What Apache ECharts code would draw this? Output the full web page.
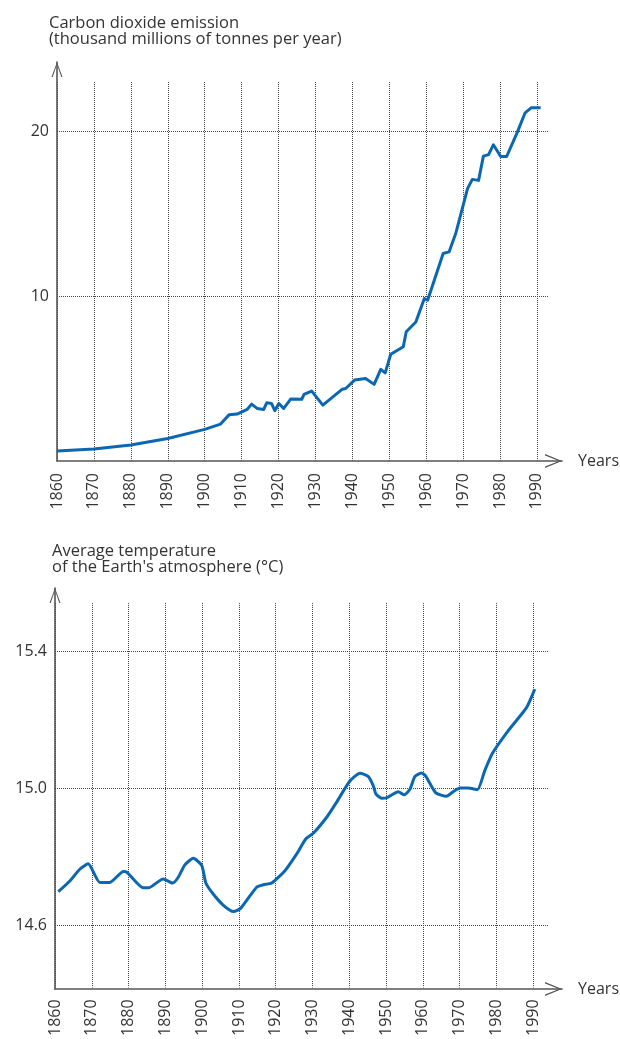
<!DOCTYPE html>
<html>
<head>
<meta charset="utf-8">
<script src="https://cdn.jsdelivr.net/npm/echarts@6/dist/echarts.min.js"></script>
<style>
  html, body { margin: 0; padding: 0; background: #fff; }
  #chart { width: 620px; height: 1039px; }
</style>
</head>
<body>
<div id="chart"></div>
<script>
// carbon dioxide emission (thousand millions of tonnes per year)
const co2Years = [1860, 1870, 1880, 1890, 1900, 1904.3, 1906.6, 1908.8, 1911.5, 1912.7,
  1914.2, 1916, 1916.8, 1918.1, 1919, 1920.1, 1921.4, 1923.3, 1926.3, 1926.9,
  1929, 1932, 1937.3, 1938.2, 1940.6, 1943.6, 1945.9, 1947.7, 1948.9, 1950.4,
  1953.8, 1954.6, 1957.2, 1959.5, 1960.4, 1964.6, 1966.2, 1968, 1971.2, 1972.5,
  1974.2, 1975.5, 1976.9, 1978.2, 1980.2, 1981.8, 1984.7, 1986.8, 1988.5, 1991];
const co2Values = [0.6, 0.73, 0.97, 1.37, 1.92, 2.24, 2.8, 2.85, 3.13, 3.45,
  3.19, 3.13, 3.53, 3.49, 3.05, 3.49, 3.19, 3.76, 3.74, 4.04,
  4.24, 3.39, 4.36, 4.4, 4.91, 5.01, 4.65, 5.56, 5.35, 6.48,
  6.93, 7.84, 8.44, 9.86, 9.76, 12.59, 12.69, 13.8, 16.53, 17.09,
  17.03, 18.5, 18.59, 19.19, 18.48, 18.48, 19.96, 21.13, 21.44, 21.44];

// average temperature of the Earth's atmosphere (°C)
const tempYears = [1860.9, 1864.1, 1866.8, 1869, 1872.2, 1874.9, 1878.6, 1879.5, 1884, 1885.4,
  1889.4, 1892, 1893.5, 1895.3, 1897.6, 1899.9, 1901, 1903, 1905.7, 1908.5,
  1910.5, 1914.8, 1916.6, 1918.9, 1922.5, 1925.7, 1928.2, 1930.2, 1934, 1936.5,
  1940.2, 1942.9, 1945.1, 1946.5, 1947.2, 1948.8, 1950.1, 1953.3, 1954.9, 1956.5,
  1957.8, 1959.6, 1960.8, 1963.5, 1966.4, 1968.2, 1970.1, 1972.3, 1974.8, 1976.8,
  1978.9, 1983.2, 1988.2, 1990.4];
const tempValues = [14.699, 14.731, 14.765, 14.78, 14.726, 14.726, 14.758, 14.756, 14.71, 14.71,
  14.736, 14.724, 14.741, 14.777, 14.796, 14.775, 14.724, 14.692, 14.66, 14.641,
  14.651, 14.712, 14.719, 14.724, 14.76, 14.809, 14.853, 14.869, 14.918, 14.959,
  15.022, 15.044, 15.035, 15.008, 14.984, 14.971, 14.972, 14.99, 14.981, 14.998,
  15.034, 15.045, 15.035, 14.987, 14.977, 14.99, 15.001, 15.001, 14.996, 15.051,
  15.102, 15.168, 15.236, 15.289];

const yearTicks = [1860, 1870, 1880, 1890, 1900, 1910, 1920, 1930, 1940, 1950, 1960, 1970, 1980, 1990];
const co2Ticks = [10, 20];
const tempTicks = [14.6, 15.0, 15.4];

const font = '"Open Sans", Lato, sans-serif';
const textColor = '#333';
const lineColor = '#0b67b2';
const gridLine = {show: true, lineStyle: {color: '#444', width: 1, type: 'dotted'}};

// open chevron arrow heads for the axis ends
const arrowUp = 'path://M5.5,0 L11,15 L9.8,15 L5.5,2.6 L1.2,15 L0,15 Z';
const arrowRight = 'path://M7,0 L14,17 L12.6,17 L7,3 L1.4,17 L0,17 Z';

let chart = echarts.init(document.getElementById('chart'), null, {renderer: 'canvas'});

let dataX = (gridIndex, max) => ({
  type: 'value', gridIndex: gridIndex, min: 1860, max: max,
  axisLine: {show: false},
  axisTick: {show: false, customValues: yearTicks},
  axisLabel: {customValues: yearTicks, rotate: 90, margin: 12, fontSize: 16, color: textColor, fontFamily: font,
    formatter: (v) => String(v)},
  splitLine: gridLine
});

let arrowX = (gridIndex) => ({
  type: 'value', gridIndex: gridIndex, min: 0, max: 1,
  name: 'Years', nameLocation: 'end', nameGap: 16,
  nameTextStyle: {fontSize: 16, color: textColor, fontFamily: font},
  axisLine: {show: true, symbol: ['none', arrowRight], symbolSize: [14, 17], symbolOffset: [0, -8.5],
    lineStyle: {color: '#555', width: 1.6}},
  axisTick: {show: false}, axisLabel: {show: false}, splitLine: {show: false}
});

let arrowY = (gridIndex) => ({
  type: 'value', gridIndex: gridIndex, min: 0, max: 1,
  axisLine: {show: true, symbol: ['none', arrowUp], symbolSize: [11, 15], symbolOffset: [0, -7.5],
    lineStyle: {color: '#555', width: 1.6}},
  axisTick: {show: false}, axisLabel: {show: false}, splitLine: {show: false}
});

chart.setOption({
  animation: false,
  title: [
    {text: 'Carbon dioxide emission\n(thousand millions of tonnes per year)', left: 44, top: 10,
      textStyle: {fontSize: 16.5, lineHeight: 16, fontWeight: 'normal', color: textColor, fontFamily: font}},
    {text: 'Average temperature\nof the Earth\'s atmosphere (°C)', left: 47, top: 538,
      textStyle: {fontSize: 16.5, lineHeight: 16, fontWeight: 'normal', color: textColor, fontFamily: font}}
  ],
  grid: [
    {left: 57, right: 72, top: 82, bottom: 578},
    {left: 57, right: 57, top: 62, bottom: 578},
    {left: 55, right: 72, top: 603, bottom: 50},
    {left: 55, right: 57, top: 588, bottom: 50}
  ],
  xAxis: [dataX(0, 1993), arrowX(1), dataX(2, 1994), arrowX(3)],
  yAxis: [
    {
      type: 'value', gridIndex: 0, min: 0, max: 23,
      axisLine: {show: false},
      axisTick: {show: false, customValues: co2Ticks},
      axisLabel: {customValues: co2Ticks, margin: 8, fontSize: 16, color: textColor, fontFamily: font},
      splitLine: gridLine
    },
    arrowY(1),
    {
      type: 'value', gridIndex: 2, min: 14.42, max: 15.54,
      axisLine: {show: false},
      axisTick: {show: false, customValues: tempTicks},
      axisLabel: {customValues: tempTicks, margin: 8, fontSize: 16, color: textColor, fontFamily: font,
        formatter: (v) => v.toFixed(1)},
      splitLine: gridLine
    },
    arrowY(3)
  ],
  series: [
    {
      name: 'CO2', type: 'line', xAxisIndex: 0, yAxisIndex: 0,
      data: co2Years.map((y, i) => [y, co2Values[i]]),
      showSymbol: false,
      lineStyle: {color: lineColor, width: 3, join: 'round'}
    },
    {
      name: 'Temperature', type: 'line', xAxisIndex: 2, yAxisIndex: 2,
      data: tempYears.map((y, i) => [y, tempValues[i]]),
      showSymbol: false, smooth: 0.2,
      lineStyle: {color: lineColor, width: 3, join: 'round'}
    }
  ]
});
</script>
</body>
</html>
